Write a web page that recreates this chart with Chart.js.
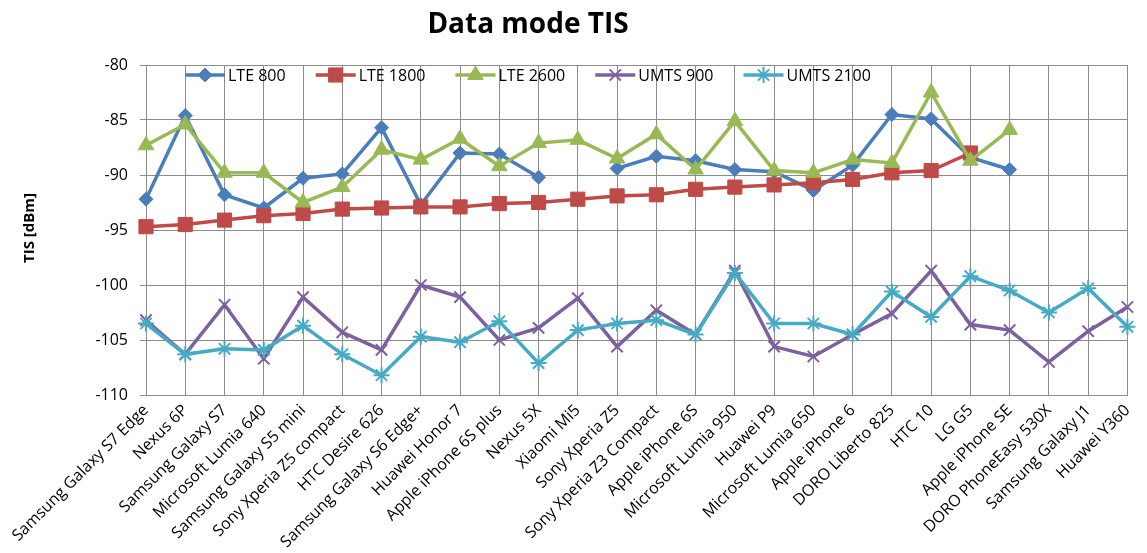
<!DOCTYPE html>
<html>
<head>
<meta charset="utf-8">
<title>Data mode TIS</title>
<script src="https://cdn.jsdelivr.net/npm/chart.js@4.4.1/dist/chart.umd.min.js"></script>
<style>
  html, body { margin: 0; padding: 0; background: #fff; }
  #wrap { width: 1147px; height: 553px; }
</style>
</head>
<body>
<div id="wrap"><canvas id="tisChart" width="1147" height="553"></canvas></div>
<script>
// phones on the x axis
const phones = [
  'Samsung Galaxy S7 Edge', 'Nexus 6P', 'Samsung Galaxy S7', 'Microsoft Lumia 640',
  'Samsung Galaxy S5 mini', 'Sony Xperia Z5 compact', 'HTC Desire 626', 'Samsung Galaxy S6 Edge+',
  'Huawei Honor 7', 'Apple iPhone 6S plus', 'Nexus 5X', 'Xiaomi Mi5', 'Sony Xperia Z5',
  'Sony Xperia Z3 Compact', 'Apple iPhone 6S', 'Microsoft Lumia 950', 'Huawei P9',
  'Microsoft Lumia 650', 'Apple iPhone 6', 'DORO Liberto 825', 'HTC 10', 'LG G5',
  'Apple iPhone SE', 'DORO PhoneEasy 530X', 'Samsung Galaxy J1', 'Huawei Y360'
];

// TIS values in dBm (null = not measured)
const lte800  = [-92.2, -84.6, -91.8, -93.0, -90.3, -89.9, -85.7, -92.7, -88.0, -88.1, -90.2, null,
                 -89.4, -88.3, -88.7, -89.5, -89.7, -91.4, -89.1, -84.5, -84.9, -88.4, -89.5, null, null, null];
const lte1800 = [-94.7, -94.5, -94.1, -93.7, -93.5, -93.1, -93.0, -92.9, -92.9, -92.6, -92.5, -92.2,
                 -91.9, -91.8, -91.3, -91.1, -90.9, -90.7, -90.4, -89.8, -89.6, -88.0, null, null, null, null];
const lte2600 = [-87.3, -85.4, -89.8, -89.8, -92.5, -91.1, -87.7, -88.6, -86.7, -89.2, -87.1, -86.8,
                 -88.5, -86.3, -89.5, -85.1, -89.6, -89.8, -88.6, -88.9, -82.5, -88.7, -85.9, null, null, null];
const umts900  = [-103.2, -106.3, -101.8, -106.7, -101.1, -104.3, -105.9, -100.0, -101.1, -105.0, -103.9, -101.2,
                  -105.6, -102.3, -104.5, -98.7, -105.6, -106.5, -104.5, -102.6, -98.7, -103.6, -104.1, -107.0, -104.2, -102.0];
const umts2100 = [-103.5, -106.3, -105.8, -105.9, -103.7, -106.3, -108.2, -104.7, -105.2, -103.3, -107.1, -104.1,
                  -103.5, -103.2, -104.5, -98.9, -103.5, -103.5, -104.5, -100.6, -102.9, -99.2, -100.5, -102.5, -100.3, -103.8];

const FONT = "'Open Sans', 'DejaVu Sans', sans-serif";
const GRID = '#8c8c8c';

Chart.defaults.font.family = FONT;
Chart.defaults.color = '#000';

function series(label, data, color, style, radius, order, pbw = 1) {
  return {
    label, data, order,
    borderColor: color, backgroundColor: color,
    borderWidth: 3.5,
    pointStyle: style, pointRadius: radius, pointHoverRadius: radius,
    pointBackgroundColor: color, pointBorderColor: color, pointBorderWidth: pbw,
    spanGaps: false, tension: 0, clip: false
  };
}

const datasets = [
  series('LTE 800',   lte800,   '#4A7EBB', 'rectRot',  7, 5),
  series('LTE 1800',  lte1800,  '#BE4B48', 'rect',     10, 4),
  series('LTE 2600',  lte2600,  '#98B954', 'triangle', 9, 3),
  series('UMTS 900',  umts900,  '#7D60A0', 'crossRot', 8, 2, 2),
  series('UMTS 2100', umts2100, '#46AAC5', 'star',     8, 1, 2),
];

// titles + legend drawn inside the plot like the Excel original
const overlay = {
  id: 'overlay',
  afterDraw(chart) {
    const { ctx } = chart;
    ctx.save();
    ctx.fillStyle = '#000';
    ctx.textAlign = 'center';
    ctx.textBaseline = 'middle';
    ctx.font = `bold 28px ${FONT}`;
    ctx.fillText('Data mode TIS', 528, 25);

    ctx.save();
    ctx.translate(30, 228);
    ctx.rotate(-Math.PI / 2);
    ctx.font = `bold 15px ${FONT}`;
    ctx.fillText('TIS [dBm]', 0, 0);
    ctx.restore();

    // legend row
    ctx.font = `16px ${FONT}`;
    ctx.textAlign = 'left';
    let x = 185;
    const y = 75;
    chart.data.datasets.forEach(ds => {
      ctx.strokeStyle = ds.borderColor;
      ctx.fillStyle = ds.backgroundColor;
      ctx.lineWidth = ds.borderWidth;
      ctx.beginPath();
      ctx.moveTo(x, y);
      ctx.lineTo(x + 40, y);
      ctx.stroke();
      ctx.lineWidth = ds.pointBorderWidth;
      Chart.helpers.drawPoint(ctx, {
        pointStyle: ds.pointStyle, radius: ds.pointRadius, rotation: 0, borderWidth: ds.pointBorderWidth
      }, x + 20, y);
      ctx.fillStyle = '#000';
      ctx.fillText(ds.label, x + 43, y + 1);
      x += 43 + ctx.measureText(ds.label).width + 30;
    });
    ctx.restore();
  }
};

new Chart(document.getElementById('tisChart'), {
  type: 'line',
  data: { labels: phones, datasets },
  options: {
    responsive: false,
    animation: false,
    devicePixelRatio: 1,
    layout: { padding: { top: 65, right: 5, left: 0, bottom: 0 } },
    plugins: {
      legend: { display: false },
      title: { display: false },
      tooltip: { enabled: false }
    },
    scales: {
      x: {
        offset: false,
        grid: { color: GRID, drawTicks: false },
        border: { color: GRID },
        ticks: { autoSkip: false, minRotation: 45, maxRotation: 45, font: { size: 16 }, color: '#000', padding: 6 },
        afterFit: s => { s.height = 158; }
      },
      y: {
        min: -110, max: -80,
        grid: { color: GRID, tickLength: 6 },
        border: { color: GRID },
        ticks: { stepSize: 5, font: { size: 16 }, color: '#000', padding: 12 },
        afterFit: s => { s.width = 146; }
      }
    }
  },
  plugins: [overlay]
});
</script>
</body>
</html>
